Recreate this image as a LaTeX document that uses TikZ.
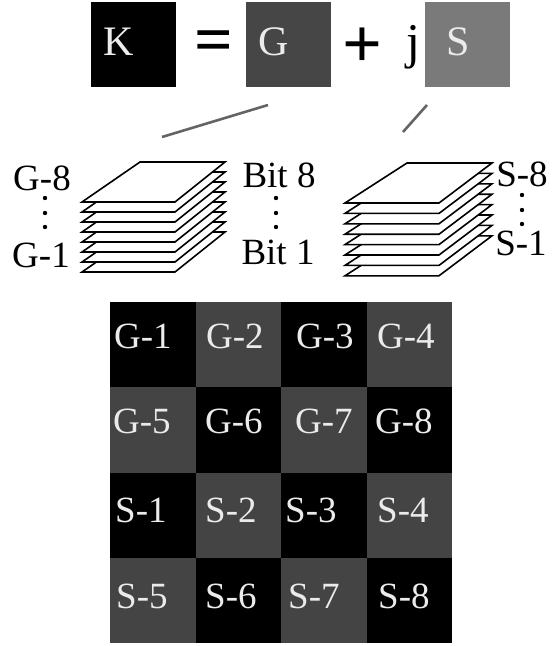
\documentclass[tikz,border=0pt]{standalone}
\usepackage{fontspec}
\setmainfont{Liberation Serif}
\usepackage{tikz}
\definecolor{gdark}{RGB}{70,70,70}
\definecolor{glight}{RGB}{122,122,122}
\definecolor{cellgray}{RGB}{68,68,68}
\definecolor{txtlight}{RGB}{235,235,235}
\definecolor{linkgray}{RGB}{100,100,100}
\tikzset{
  sq/.style={minimum width=85pt,minimum height=85pt,inner sep=0pt,outer sep=0pt,anchor=north west},
  bigletter/.style={text=txtlight,font=\fontsize{42}{48}\selectfont,anchor=base west,inner sep=0pt},
  op/.style={inner sep=0pt,anchor=base},
  lbl/.style={font=\fontsize{37}{42}\selectfont,inner sep=0pt,anchor=base},
  cell/.style={minimum width=85.5pt,minimum height=85.3pt,inner sep=0pt,outer sep=0pt,anchor=north west},
  celltxt/.style={text=txtlight,font=\fontsize{37}{42}\selectfont,inner sep=0pt,anchor=base west},
  plate/.style={draw=black,fill=white,line width=1.6pt,line join=miter},
  link/.style={draw=linkgray,line width=2.6pt},
  dotmark/.style={fill=black}
}
\begin{document}
\begin{tikzpicture}[x=1pt,y=-1pt]
\useasboundingbox (0,0) rectangle (552,646);

% K = G + jS
\node[sq,fill=black] (K) at (91,2) {};
\node[sq,fill=gdark] (G) at (246,2) {};
\node[sq,fill=glight] (S) at (425,2) {};
\node[bigletter] (Kt) at (103,55) {K};
\node[bigletter] (Gt) at (258,55) {G};
\node[bigletter] (St) at (446,55) {S};
\node[op,font=\fontsize{68}{70}\selectfont\bfseries] (eq) at (214,62) {=};
\node[op,font=\fontsize{70}{72}\selectfont\bfseries] (plus) at (362,67) {+};
\node[op,font=\fontsize{50}{56}\selectfont] (jj) at (413,58) {j};

% short links from the parts down to the bit stacks
\coordinate (l1a) at (162,137);
\coordinate (l1b) at (268,105);
\coordinate (l2a) at (403,132);
\coordinate (l2b) at (427,105);
\draw[link] (l1a) -- (l1b);
\draw[link] (l2a) -- (l2b);

% bit-plane stack of G (bottom plate first)
\foreach \i in {7,6,...,0}{
  \draw[plate] (82,202+10*\i) -- (175,202+10*\i) -- (225,162+10*\i) -- (140,162+10*\i) -- cycle;
}
% bit-plane stack of S
\foreach \i in {7,6,...,0}{
  \draw[plate] (345,203+10.4*\i) -- (439,203+10.4*\i) -- (492,163+10.4*\i) -- (407,163+10.4*\i) -- cycle;
}

% stack labels
\node[lbl] (g8) at (42,190) {G-8};
\node[lbl] (g1) at (41,267) {G-1};
\node[lbl] (b8) at (279,187) {Bit 8};
\node[lbl] (b1) at (278,264) {Bit 1};
\node[lbl] (s8) at (522,186) {S-8};
\node[lbl] (s1) at (521,255) {S-1};
\foreach \y in {198,213,227}{
  \fill[dotmark] (45,\y) circle (2.2);
  \fill[dotmark] (276,\y) circle (2.2);
}
\foreach \y in {195,210,224}{
  \fill[dotmark] (522,\y) circle (2.2);
}

% checkerboard of bit planes
\foreach \r in {0,1,2,3}{
  \foreach \c in {0,1,2,3}{
    \pgfmathtruncatemacro{\parity}{mod(\r+\c,2)}
    \ifnum\parity=0
      \node[cell,fill=black] (c\r\c) at (110+85.5*\c,302+85.3*\r) {};
    \else
      \node[cell,fill=cellgray] (c\r\c) at (110+85.5*\c,302+85.3*\r) {};
    \fi
  }
}
\node[celltxt] (t00) at (114,348) {G-1};
\node[celltxt] (t01) at (206,348) {G-2};
\node[celltxt] (t02) at (296,348) {G-3};
\node[celltxt] (t03) at (377,348) {G-4};
\node[celltxt] (t10) at (113,433) {G-5};
\node[celltxt] (t11) at (205,433) {G-6};
\node[celltxt] (t12) at (295,433) {G-7};
\node[celltxt] (t13) at (375,433) {G-8};
\node[celltxt] (t20) at (115,522) {S-1};
\node[celltxt] (t21) at (205,522) {S-2};
\node[celltxt] (t22) at (285,522) {S-3};
\node[celltxt] (t23) at (377,522) {S-4};
\node[celltxt] (t30) at (116,608) {S-5};
\node[celltxt] (t31) at (205,608) {S-6};
\node[celltxt] (t32) at (288,608) {S-7};
\node[celltxt] (t33) at (378,608) {S-8};
\end{tikzpicture}
\end{document}
